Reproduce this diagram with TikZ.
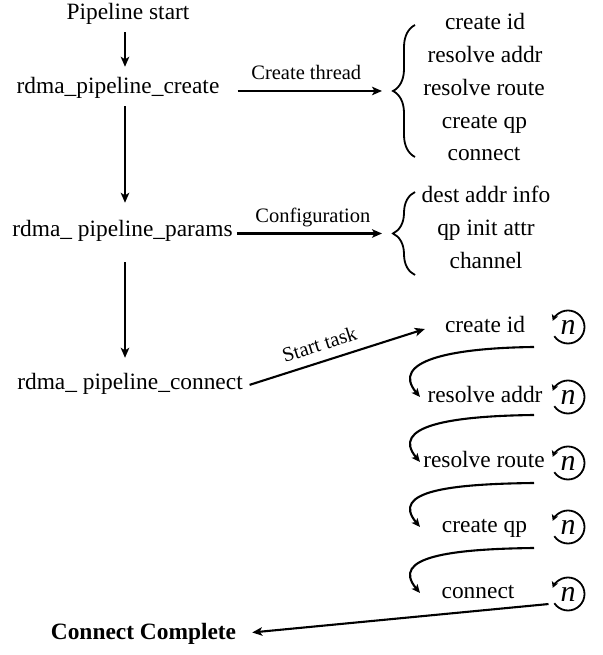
\documentclass[tikz,border=0pt]{standalone}
\usepackage{fontspec}
\setmainfont{Liberation Serif}
\usetikzlibrary{arrows.meta,decorations.pathreplacing,calc}

\begin{document}
\begin{tikzpicture}[x=1pt,y=1pt,
  txt/.style={font=\fontsize{23.4}{28}\selectfont, inner sep=0pt, text height=16pt, text depth=5pt},
  lbl/.style={font=\fontsize{20.5}{24}\selectfont, inner sep=0pt, text height=14pt, text depth=4.5pt},
  arr/.style={line width=2.1pt, -{Stealth[length=10pt,width=8.5pt,inset=2.5pt]}},
  flow/.style={line width=2.1pt, -{Stealth[length=8.5pt,width=7.5pt,inset=2pt]}},
  loopn/.style={circle, minimum size=33pt, inner sep=0pt, outer sep=0pt, font=\fontsize{30}{30}\selectfont\itshape},
  loopar/.style={line width=1.8pt, -{Stealth[length=6pt,width=6.5pt,inset=1.5pt]}},
  brc/.style={line width=1.8pt, decorate, decoration={brace, amplitude=22pt}}
]
\useasboundingbox (0,0) rectangle (602,655);

% main pipeline column
\coordinate (axis) at (125,0);
\node[txt] (ps)    at (128,641)   {Pipeline start};
\node[txt] (pc)    at (118,567)   {rdma\_pipeline\_create};
\node[txt] (pp)    at (122.5,424) {rdma\_ pipeline\_params};
\node[txt] (pconn) at (130,271)   {rdma\_ pipeline\_connect};
\node[txt, font=\fontsize{23.4}{28}\selectfont\bfseries] (cc) at (143.5,21) {Connect Complete};

\draw[arr, shorten <=7.5pt, shorten >=10.5pt] (ps.south -| axis) -- (pc.north -| axis);
\draw[arr, shorten <=7.5pt, shorten >=17.5pt] (pc.south -| axis) -- (pp.north -| axis);
\draw[arr, shorten <=20.5pt, shorten >=15.5pt] (pp.south -| axis) -- (pconn.north -| axis);

% thread creation steps
\node[txt] (la1) at (485,631) {create id};
\node[txt] (la2) at (485,598) {resolve addr};
\node[txt] (la3) at (484,565) {resolve route};
\node[txt] (la4) at (484.5,532) {create qp};
\node[txt] (la5) at (484,500) {connect};
\coordinate (b1) at (393,564);
\draw[brc] (415,498) -- (415,630);
\draw[arr, shorten <=18pt, shorten >=11pt] (pc.east |- b1) -- (b1)
  node[lbl, midway, above=5.5pt] {Create thread};

% configuration items
\node[txt] (lb1) at (486,458) {dest addr info};
\node[txt] (lb2) at (486,425) {qp init attr};
\node[txt] (lb3) at (486,392) {channel};
\coordinate (b2) at (393,421.5);
\draw[brc] (415,380) -- (415,463);
\draw[arr, shorten <=4pt, shorten >=11pt] (pp.east |- b2) -- (b2)
  node[lbl, midway, above=5.5pt] {Configuration};

% connection task sequence
\node[txt] (r1) at (485,328)   {create id};
\node[txt] (r2) at (485,258)   {resolve addr};
\node[txt] (r3) at (484,193)   {resolve route};
\node[txt] (r4) at (484.5,128) {create qp};
\node[txt] (r5) at (478,62)    {connect};

\foreach \i/\y in {1/328,2/258,3/192,4/128,5/61}{
  \node[loopn] (l\i) at (568,\y) {n};
  \draw[loopar] (l\i.214) arc[start angle=214, end angle=518, radius=16.5pt];
}

\draw[arr, shorten <=7pt, shorten >=0pt] ([yshift=-3pt]pconn.east) -- ([shift={(-20pt,-2pt)}]r1.west)
  node[lbl, pos=0.45, above=5pt, sloped] {Start task};

\coordinate (ecol) at (420,0);
\coordinate (s1) at (534,308);
\coordinate (s2) at (534,240);
\coordinate (s3) at (534,172);
\coordinate (s4) at (534,107);
\draw[flow] (s1) .. controls +(-84,-1) and +(-30,36) .. (r2.west -| ecol);
\draw[flow] (s2) .. controls +(-84,-1) and +(-30,36) .. (r3.west -| ecol);
\draw[flow] (s3) .. controls +(-84,-1) and +(-30,36) .. (r4.west -| ecol);
\draw[flow] (s4) .. controls +(-84,-1) and +(-30,36) .. (r5.west -| ecol);

\draw[arr, shorten <=6pt, shorten >=16pt] (l5.215) -- (cc.east);
\end{tikzpicture}
\end{document}
